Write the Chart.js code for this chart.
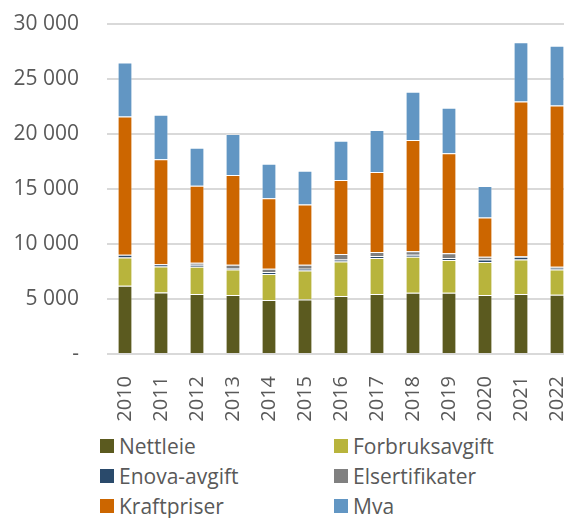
<!DOCTYPE html>
<html>
<head>
<meta charset="utf-8">
<script src="https://cdn.jsdelivr.net/npm/chart.js@4/dist/chart.umd.min.js"></script>
<style>
    body { margin: 0; background: #fff; }
    #wrap { position: relative; width: 564px; height: 518px; overflow: hidden; }
    #chart { position: absolute; left: 0; top: 0; }
    #legend { position: absolute; left: 100px; top: 434px; width: 464px;
        display: grid; grid-template-columns: 234px 230px; row-gap: 6px;
        font-family: "Open Sans", sans-serif; font-size: 21px; color: #595959; }
    .item { display: flex; align-items: center; height: 24px; }
    .box { width: 14px; height: 14px; margin-right: 5px; flex: none; }
</style>
</head>
<body>
<div id="wrap">
    <canvas id="chart" width="575" height="430"></canvas>
    <div id="legend"></div>
</div>
<script>
const years = ['2010', '2011', '2012', '2013', '2014', '2015', '2016', '2017', '2018', '2019', '2020', '2021', '2022']

// values (kr)
const nettleie       = [6200, 5600, 5450, 5360, 4900, 4960, 5270, 5450, 5570, 5570, 5360, 5450, 5390]
const forbruksavgift = [2580, 2360, 2490, 2330, 2370, 2640, 3150, 3280, 3280, 2980, 3000, 3150, 2300]
const enova          = [250, 190, 180, 130, 180, 150, 180, 180, 180, 180, 240, 240, 180]
const elsertifikater = [0, 0, 180, 300, 300, 370, 490, 360, 300, 420, 250, 60, 60]
const kraftpriser    = [12570, 9550, 7000, 8150, 6400, 5480, 6730, 7270, 10120, 9090, 3570, 14060, 14660]
const mva            = [4900, 4050, 3450, 3730, 3150, 3060, 3570, 3820, 4390, 4150, 2850, 5370, 5430]

const yTicks = [0, 5000, 10000, 15000, 20000, 25000, 30000]

const fontFamily = '"Open Sans", sans-serif'
const textColor = '#595959'

function formatTick(v) {
    if (v === 0) return '-'
    return String(v).replace(/\B(?=(\d{3})+(?!\d))/g, ' ')
}

// fixed axis sizes so the plot area lands where the original has it
function noPadding(axis) {
    axis.paddingLeft = 0
    axis.paddingRight = 0
    axis.paddingTop = 0
    axis.paddingBottom = 0
}

const series = [
    { label: 'Nettleie', data: nettleie, color: '#5b5a1f' },
    { label: 'Forbruksavgift', data: forbruksavgift, color: '#b8b43c' },
    { label: 'Enova-avgift', data: enova, color: '#2a4a6b' },
    { label: 'Elsertifikater', data: elsertifikater, color: '#808080' },
    { label: 'Kraftpriser', data: kraftpriser, color: '#cc6600' },
    { label: 'Mva', data: mva, color: '#6296c3' }
]

const ctx = document.getElementById('chart').getContext('2d')
const chart = new Chart(ctx, {
    type: 'bar',
    data: {
        labels: years,
        datasets: series.map(s => ({
            label: s.label,
            data: s.data,
            backgroundColor: s.color,
            borderColor: 'rgba(255, 255, 255, 0.3)',
            borderWidth: 1,
            barPercentage: 0.41,
            categoryPercentage: 1
        }))
    },
    options: {
        responsive: false,
        animation: false,
        layout: { padding: { left: 13, top: 24, right: 0, bottom: 6 } },
        plugins: {
            legend: { display: false },
            tooltip: { enabled: false }
        },
        scales: {
            x: {
                stacked: true,
                grid: { display: false },
                border: { display: false },
                afterFit: axis => { noPadding(axis); axis.height = 70 },
                ticks: {
                    color: textColor,
                    font: { family: fontFamily, size: 20 },
                    maxRotation: 90, minRotation: 90,
                    autoSkip: false,
                    padding: 14
                }
            },
            y: {
                stacked: true,
                min: 0,
                max: 30000,
                afterBuildTicks: axis => { axis.ticks = yTicks.map(v => ({ value: v })) },
                afterFit: axis => { noPadding(axis); axis.width = 94 },
                grid: { color: '#d9d9d9', lineWidth: 2, drawTicks: false },
                border: { display: false },
                ticks: {
                    color: textColor,
                    font: { family: fontFamily, size: 21 },
                    padding: 28,
                    callback: v => formatTick(v)
                }
            }
        }
    }
})

// legend in two columns, like the original
let legend = document.getElementById('legend')
chart.data.datasets.forEach(ds => {
    let item = document.createElement('div')
    item.className = 'item'
    item.innerHTML = `<span class="box" style="background:${ds.backgroundColor}"></span>${ds.label}`
    legend.appendChild(item)
})
</script>
</body>
</html>
